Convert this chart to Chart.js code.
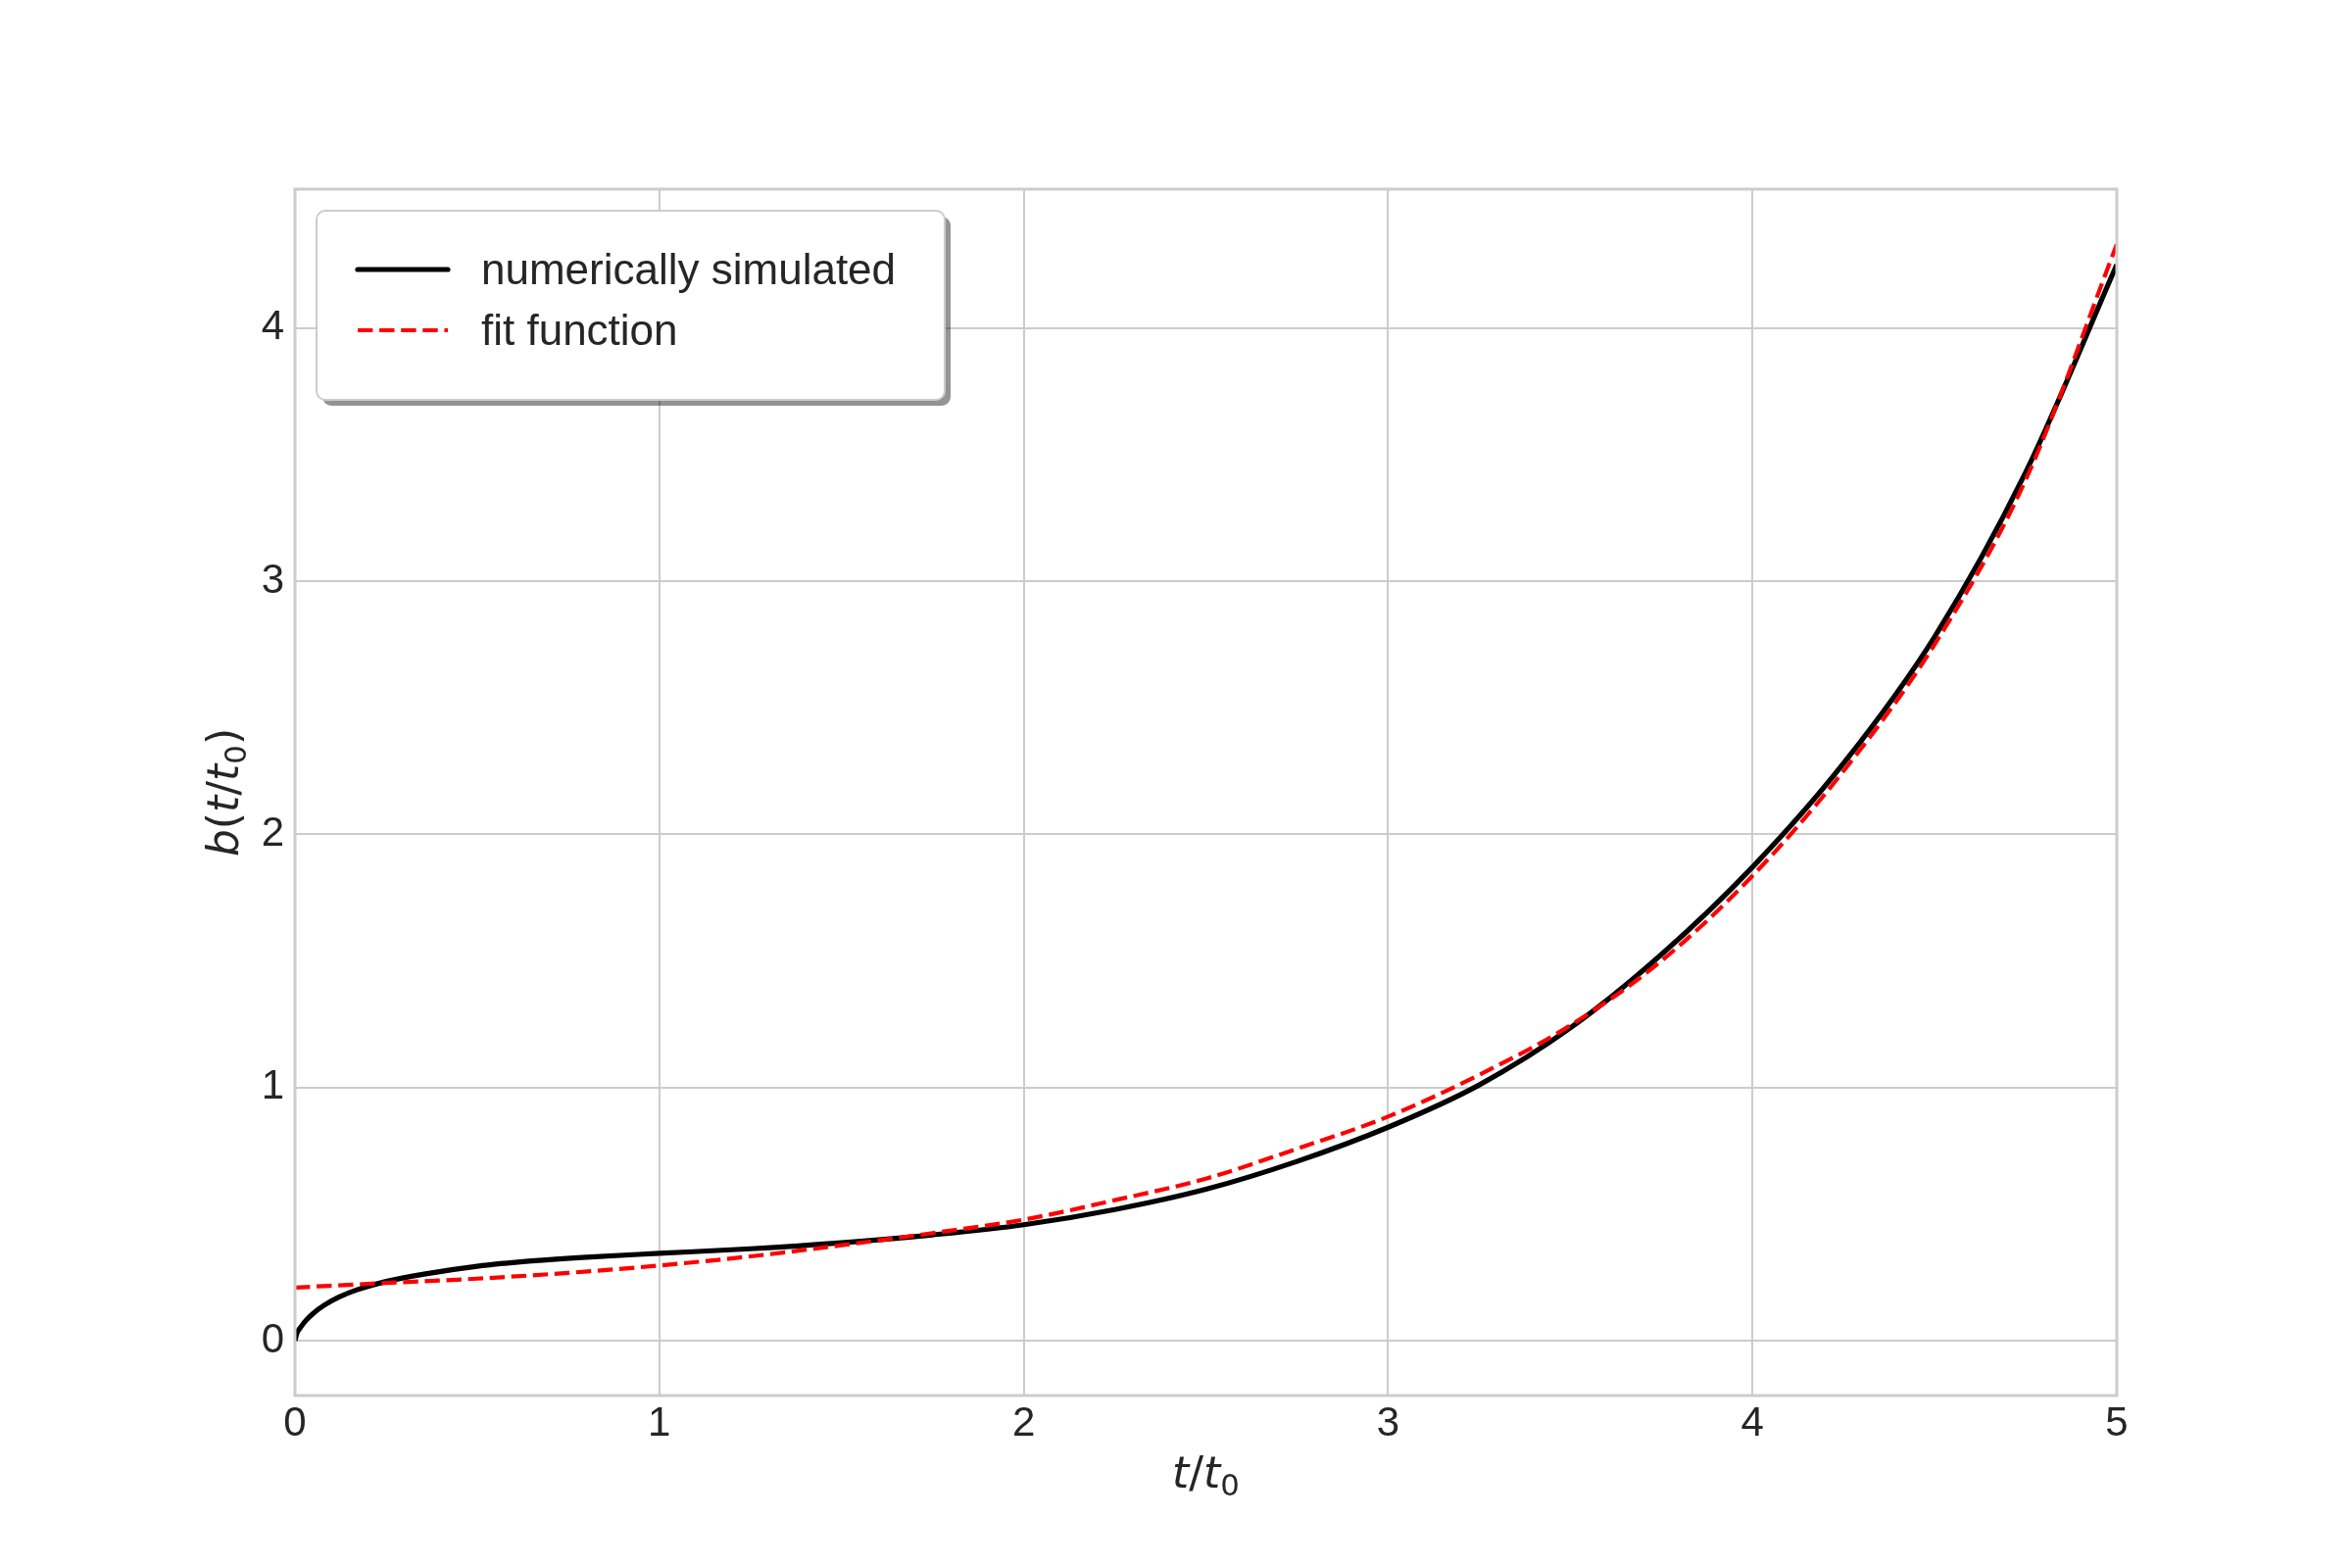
<!DOCTYPE html>
<html><head><meta charset="utf-8">
<script src="https://cdn.jsdelivr.net/npm/chart.js@4.4.1/dist/chart.umd.min.js"></script>
<style>html,body{margin:0;padding:0;background:#fff;}canvas{display:block;}</style>
</head><body>
<canvas id="c" width="2400" height="1600"></canvas>
<script>
// ---- data ----
const simT = [0, 0.005, 0.015, 0.03, 0.05, 0.08, 0.12, 0.17, 0.25, 0.35, 0.5, 0.65, 0.8, 1.0, 1.25, 1.5, 1.75, 2.0, 2.25, 2.5, 2.75, 3.0, 3.25, 3.5, 3.75, 4.0, 4.25, 4.5, 4.75, 5.0];
const simB = [0, 0.028, 0.052, 0.08, 0.108, 0.14, 0.172, 0.201, 0.234, 0.262, 0.294, 0.315, 0.330, 0.345, 0.363, 0.387, 0.418, 0.458, 0.518, 0.598, 0.708, 0.843, 1.01, 1.235, 1.525, 1.87, 2.28, 2.78, 3.43, 4.25];
const fitT = [0, 0.25, 0.5, 0.75, 1.0, 1.25, 1.5, 1.75, 2.0, 2.25, 2.5, 2.75, 3.0, 3.25, 3.5, 3.75, 4.0, 4.25, 4.5, 4.75, 5.0];
const fitB = [0.21, 0.228, 0.245, 0.268, 0.297, 0.333, 0.377, 0.425, 0.478, 0.555, 0.64, 0.758, 0.885, 1.05, 1.245, 1.5, 1.836, 2.25, 2.75, 3.40, 4.33];
const xTicks = [0, 1, 2, 3, 4, 5];
const yTicks = [0, 1, 2, 3, 4];
const seriesLabels = ['numerically simulated', 'fit function'];
// axis titles as runs: [text, italic, subscript]
const xTitleRuns = [['t',1,0], ['/',0,0], ['t',1,0], ['0',0,1]];
const yTitleRuns = [['b',1,0], ['(',0,0], ['t',1,0], ['/',0,0], ['t',1,0], ['0',0,1], [')',0,0]];

const toXY = (xs, ys) => xs.map((x, i) => ({x: x, y: ys[i]}));

const TEXT = '#262626';
const GRID = '#cccccc';

function runFont(it, size) {
  return (it ? 'italic ' : '') + size + 'px "DejaVu Sans"';
}
function runsWidth(ctx, runs, size) {
  let w = 0;
  for (const [s, it, sub] of runs) { ctx.font = runFont(it, sub ? size * 0.7 : size); w += ctx.measureText(s).width; }
  return w;
}
function drawRuns(ctx, runs, x, y, size) {
  ctx.textBaseline = 'alphabetic';
  ctx.textAlign = 'left';
  for (const [s, it, sub] of runs) {
    const sz = sub ? size * 0.7 : size;
    ctx.font = runFont(it, sz);
    ctx.fillText(s, x, y + (sub ? size * 0.18 : 0));
    x += ctx.measureText(s).width;
  }
}

const decorPlugin = {
  id: 'decor',
  afterDatasetsDraw(chart) {
    const ctx = chart.ctx, a = chart.chartArea;
    ctx.save();
    ctx.strokeStyle = GRID;
    ctx.lineWidth = 3;
    ctx.strokeRect(a.left, a.top, a.right - a.left, a.bottom - a.top);
    ctx.restore();
  },
  afterDraw(chart) {
    const ctx = chart.ctx, a = chart.chartArea;
    ctx.save();
    ctx.fillStyle = TEXT;
    // x title
    const ts = 44;
    const xw = runsWidth(ctx, xTitleRuns, ts);
    drawRuns(ctx, xTitleRuns, (a.left + a.right) / 2 - xw / 2, a.bottom + 94, ts);
    // y title
    const yw = runsWidth(ctx, yTitleRuns, ts);
    ctx.save();
    ctx.translate(a.left - 58, (a.top + a.bottom) / 2);
    ctx.rotate(-Math.PI / 2);
    drawRuns(ctx, yTitleRuns, -yw / 2, 0, ts);
    ctx.restore();

    // legend
    const lx = a.left + 22, ly = a.top + 22, lw = 641, lh = 193, r = 9;
    ctx.fillStyle = 'rgba(0,0,0,0.42)';
    ctx.beginPath(); ctx.roundRect(lx + 6, ly + 6, lw, lh, r); ctx.fill();
    ctx.fillStyle = '#ffffff';
    ctx.strokeStyle = GRID;
    ctx.lineWidth = 2;
    ctx.beginPath(); ctx.roundRect(lx, ly, lw, lh, r); ctx.fill(); ctx.stroke();
    const ds = chart.data.datasets;
    const rows = [ly + 60, ly + 122];
    ds.forEach((d, i) => {
      const y = rows[i];
      ctx.save();
      ctx.strokeStyle = d.borderColor;
      ctx.lineWidth = d.borderWidth;
      ctx.setLineDash(d.borderDash || []);
      ctx.lineCap = (d.borderDash && d.borderDash.length) ? 'butt' : 'round';
      ctx.beginPath(); ctx.moveTo(lx + 42, y); ctx.lineTo(lx + 134, y); ctx.stroke();
      ctx.restore();
      ctx.fillStyle = TEXT;
      ctx.font = '44px "Liberation Sans"';
      ctx.textBaseline = 'alphabetic';
      ctx.textAlign = 'left';
      ctx.fillText(d.label, lx + 168, y + 15);
    });
    ctx.restore();
  }
};

new Chart(document.getElementById('c'), {
  type: 'scatter',
  data: {
    datasets: [
      { label: seriesLabels[0], data: toXY(simT, simB), showLine: true, borderColor: '#000000', backgroundColor: '#000000',
        borderWidth: 5.2, pointRadius: 0, cubicInterpolationMode: 'monotone', borderJoinStyle: 'round', order: 1 },
      { label: seriesLabels[1], data: toXY(fitT, fitB), showLine: true, borderColor: '#ff0000', backgroundColor: '#ff0000',
        borderWidth: 4.2, borderDash: [15.4, 6.7], pointRadius: 0, cubicInterpolationMode: 'monotone', order: 0 }
    ]
  },
  options: {
    responsive: false,
    animation: false,
    devicePixelRatio: 1,
    layout: { padding: { left: 0, top: 193, right: 240, bottom: 0 } },
    plugins: { legend: { display: false }, tooltip: { enabled: false } },
    scales: {
      x: {
        type: 'linear', position: 'bottom', min: 0, max: 5,
        afterBuildTicks: s => { s.ticks = xTicks.map(v => ({ value: v })); },
        afterFit: s => { s.height = 176; },
        grid: { color: GRID, lineWidth: 2, drawTicks: false },
        border: { display: false },
        ticks: { color: TEXT, font: { family: 'Liberation Sans', size: 42 }, padding: 4, maxRotation: 0,
          callback: v => String(v) }
      },
      y: {
        type: 'linear', position: 'left', min: -0.2165, max: 4.548,
        afterBuildTicks: s => { s.ticks = yTicks.map(v => ({ value: v })); },
        afterFit: s => { s.width = 301; },
        grid: { color: GRID, lineWidth: 2, drawTicks: false },
        border: { display: false },
        ticks: { color: TEXT, font: { family: 'Liberation Sans', size: 42 }, padding: 11,
          callback: v => String(v) }
      }
    }
  },
  plugins: [decorPlugin]
});
</script>
</body></html>
